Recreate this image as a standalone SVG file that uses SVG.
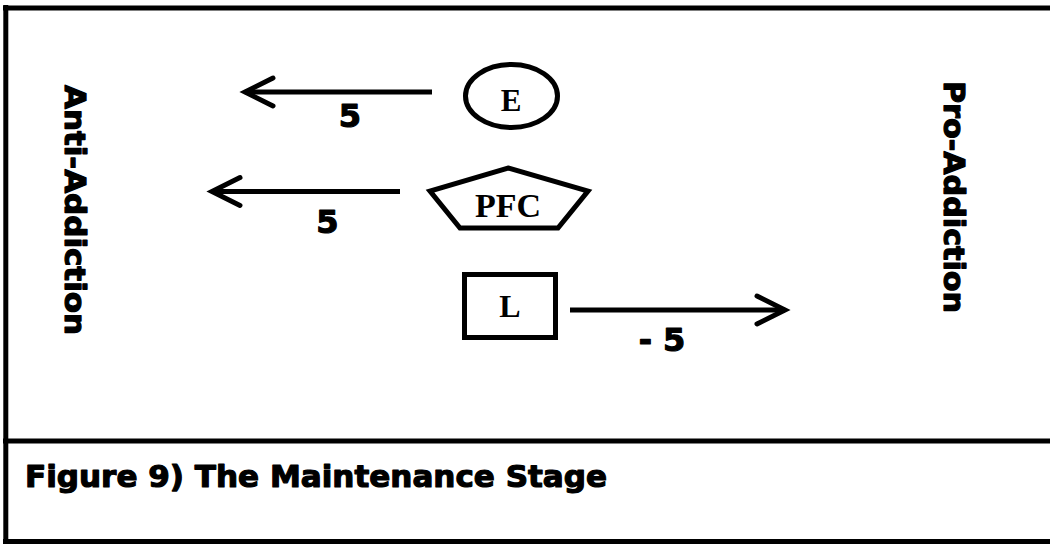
<svg xmlns="http://www.w3.org/2000/svg" width="1050" height="544" viewBox="0 0 1050 544">
<style>
.frame{stroke:#000;stroke-width:5;fill:none}
.shape{stroke:#000;stroke-width:5;fill:#fff}
.conn{stroke:#000;stroke-width:5;fill:none}
.node{font-family:"Liberation Serif","Times New Roman",serif;font-weight:bold;fill:#000;text-anchor:middle}
.heavy{font-family:"DejaVu Sans","Liberation Sans",Arial,sans-serif;font-weight:bold;fill:#000;stroke:#000;stroke-width:1.2;stroke-linejoin:round;paint-order:stroke}
.num{font-size:32px;text-anchor:middle}
</style>
<defs>
<marker id="chev" markerUnits="userSpaceOnUse" markerWidth="44" markerHeight="40" viewBox="-36 -20 44 40" refX="0" refY="0" orient="auto" overflow="visible">
<path d="M -28 -14 L 0 0 L -28 14" fill="none" stroke="#000" stroke-width="5" stroke-linecap="round" stroke-linejoin="miter"/>
</marker>
</defs>
<rect width="1050" height="544" fill="#fff"/>
<g id="frame">
<line class="frame" x1="3" y1="8" x2="1050" y2="8" stroke-width="5.5"/>
<line class="frame" x1="5.8" y1="5" x2="5.8" y2="544"/>
<line class="frame" x1="3" y1="441" x2="1050" y2="441"/>
<line class="frame" x1="3" y1="541.5" x2="1050" y2="541.5" stroke-width="4"/>
</g>
<g id="side-labels">
<text class="heavy" font-size="28" text-anchor="middle" textLength="250" lengthAdjust="spacingAndGlyphs" transform="translate(65 210) rotate(90)">Anti-Addiction</text>
<text class="heavy" font-size="28" text-anchor="middle" textLength="232" lengthAdjust="spacingAndGlyphs" transform="translate(944 197) rotate(90)">Pro-Addiction</text>
</g>
<g id="connectors">
<line class="conn" x1="432" y1="92" x2="245" y2="92" marker-end="url(#chev)"/>
<line class="conn" x1="400" y1="191.5" x2="212" y2="191.5" marker-end="url(#chev)"/>
<line class="conn" x1="570" y1="310" x2="785" y2="310" marker-end="url(#chev)"/>
<text class="heavy num" x="350" y="127">5</text>
<text class="heavy num" x="327.5" y="233">5</text>
<text class="heavy num" x="662" y="351" xml:space="preserve">- 5</text>
</g>
<g id="node-E">
<ellipse class="shape" cx="511.5" cy="96" rx="46" ry="31.5"/>
<text class="node" font-size="31" x="511" y="111">E</text>
</g>
<g id="node-PFC">
<polygon class="shape" points="508,168 588,191 558,228 460,228 430,191"/>
<text class="node" font-size="34" x="508" y="217">PFC</text>
</g>
<g id="node-L">
<rect class="shape" x="464.5" y="274.5" width="91" height="63"/>
<text class="node" font-size="32" x="510" y="317">L</text>
</g>
<g id="caption">
<text class="heavy" font-size="31" x="25" y="487" textLength="582" lengthAdjust="spacingAndGlyphs">Figure 9) The Maintenance Stage</text>
</g>
</svg>
